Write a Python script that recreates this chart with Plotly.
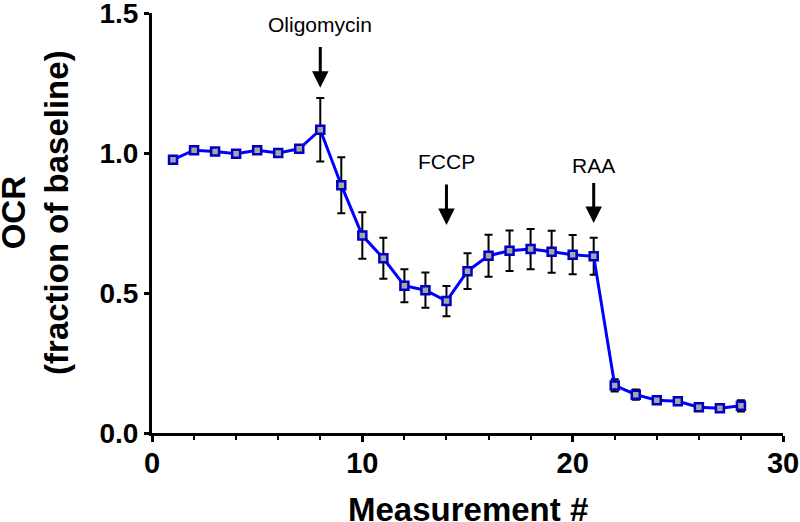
import plotly.graph_objects as go

# OCR trace (fraction of baseline)
measurement = [1, 2, 3, 4, 5, 6, 7, 8, 9, 10, 11, 12, 13, 14,
               15, 16, 17, 18, 19, 20, 21, 22, 23, 24, 25, 26, 27, 28]
ocr = [0.976, 1.010, 1.005, 0.997, 1.010, 1.000, 1.015, 1.083, 0.885, 0.705,
       0.624, 0.526, 0.510, 0.471, 0.578, 0.633, 0.651, 0.657, 0.647, 0.637,
       0.631, 0.170, 0.137, 0.117, 0.113, 0.092, 0.088, 0.097]
ocr_err = [0.005, 0.006, 0.006, 0.006, 0.006, 0.006, 0.008, 0.113, 0.100, 0.083,
           0.073, 0.059, 0.063, 0.054, 0.064, 0.075, 0.072, 0.072, 0.075, 0.070,
           0.066, 0.022, 0.018, 0.010, 0.008, 0.008, 0.008, 0.020]

# injections: label, measurement, label y, arrow tail y, arrow tip y
inj_labels = ["Oligomycin", "FCCP", "RAA"]
inj_x = [8, 14, 21]
inj_text_y = [1.459, 0.969, 0.957]
inj_tail_y = [1.384, 0.893, 0.898]
inj_tip_y = [1.233, 0.743, 0.750]

FONT = "Liberation Sans, Arial, sans-serif"

fig = go.Figure()
fig.add_trace(go.Scatter(
    x=measurement, y=ocr, mode="lines+markers",
    line=dict(color="#0000ff", width=3),
    marker=dict(symbol="square", size=8, color="#a6a6a6",
                line=dict(color="#0000c0", width=2.5)),
    error_y=dict(type="data", array=ocr_err, color="black",
                 thickness=2, width=4),
    cliponaxis=False, showlegend=False))

for lab, x, ty, ay, y in zip(inj_labels, inj_x, inj_text_y, inj_tail_y, inj_tip_y):
    fig.add_annotation(x=x, y=ty, text=lab, showarrow=False,
                       xanchor="center", yanchor="middle",
                       font=dict(family=FONT, size=21, color="black"))
    fig.add_annotation(x=x, y=y, ax=x, ay=ay, axref="x", ayref="y",
                       text="", showarrow=True, arrowhead=2, arrowsize=1.1,
                       arrowwidth=3, arrowcolor="black", standoff=0)

# axis titles
fig.add_annotation(xref="paper", yref="paper", x=0, y=0.524, xshift=-117,
                   text="OCR<br>(fraction of baseline)", textangle=-90,
                   showarrow=False, xanchor="center", yanchor="middle",
                   font=dict(family=FONT, size=33, color="black", weight="bold"))
fig.add_annotation(xref="paper", yref="paper", x=0.5, y=0, yshift=-76,
                   text="Measurement #", showarrow=False,
                   xanchor="center", yanchor="middle",
                   font=dict(family=FONT, size=33, color="black", weight="bold"))

fig.update_xaxes(range=[0, 30], tickvals=[0, 10, 20, 30], automargin=False,
                 ticks="outside", ticklen=6, tickwidth=2.5, tickcolor="black",
                 ticklabelstandoff=-4, ticklabeloverflow="allow",
                 minor=dict(dtick=2, tick0=0, ticks="outside", ticklen=4,
                            tickwidth=2, tickcolor="black", showgrid=False),
                 showline=True, linewidth=3, linecolor="black",
                 showgrid=False, zeroline=False,
                 tickfont=dict(family=FONT, size=29, color="black", weight="bold"))
fig.update_yaxes(range=[0, 1.5], tickvals=[0, 0.5, 1.0, 1.5], automargin=False,
                 tickformat=".1f", ticks="outside", ticklen=5, tickwidth=2.5,
                 ticklabeloverflow="allow",
                 tickcolor="black", showline=True, linewidth=3, linecolor="black",
                 showgrid=False, zeroline=False,
                 tickfont=dict(family=FONT, size=28, color="black", weight="bold"))

fig.update_layout(width=800, height=522, template="none",
                  margin=dict(l=152, r=17, t=13, b=89),
                  plot_bgcolor="white", paper_bgcolor="white")

fig.write_html("out.html", config={"displayModeBar": False},
               post_script="document.body.style.margin='0px';")
